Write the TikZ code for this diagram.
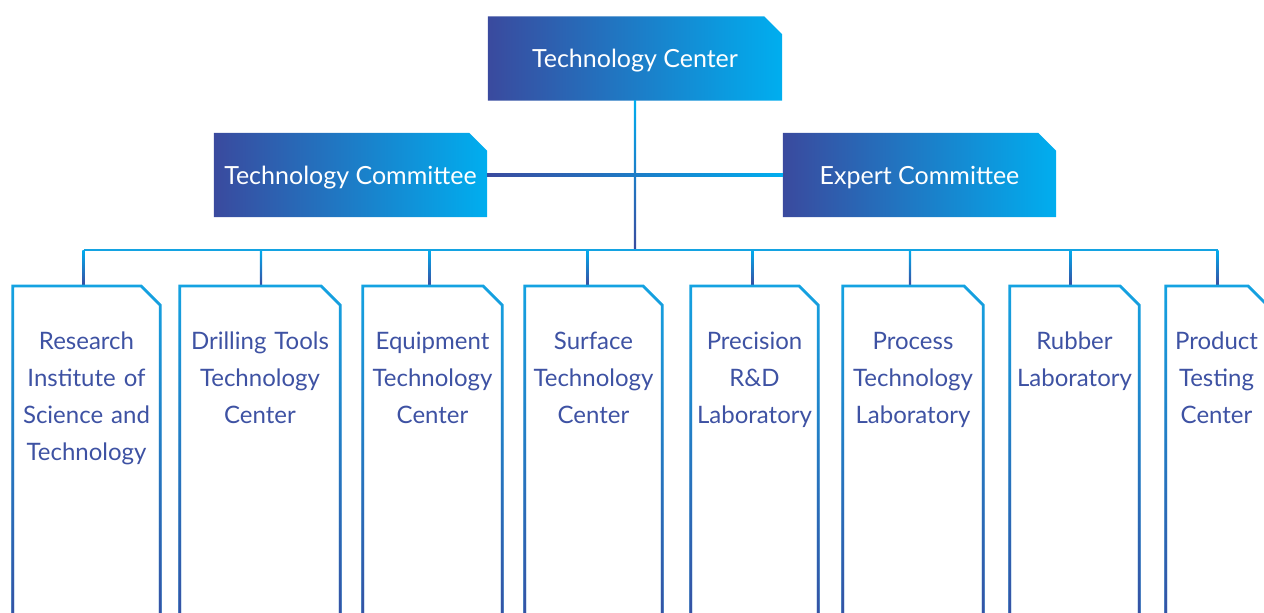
\documentclass[tikz,border=0pt]{standalone}
\usepackage{fontspec}
\setmainfont{Lato}
\usetikzlibrary{fadings,backgrounds}
\definecolor{MyDark}{HTML}{3A4A9E}
\definecolor{MyMid}{HTML}{0071B9}
\definecolor{MyLight}{HTML}{00AEEF}
\definecolor{MyLine}{HTML}{14A3E2}
\definecolor{MyText}{HTML}{3E52A3}
\tikzset{
	headbox/.style={minimum height=84pt, inner sep=0pt, text height=18pt, text depth=0pt,
		text=white, font=\fontsize{25}{30}\selectfont},
	headshade/.style={left color=MyDark, middle color=MyMid, right color=MyLight},
	unitbox/.style={anchor=north, inner xsep=0pt, inner ysep=45pt, text height=18pt, text depth=250pt,
		align=center, text=MyText, font=\fontsize{24}{37}\selectfont},
	unitline/.style={MyLine, line width=2.8pt, line join=miter},
	busline/.style={MyLine, line width=2.4pt},
	dropshade/.style={top color=MyLight, bottom color=MyDark}
}
\newcommand{\cutpath}[2]{(#1.south west) -- (#1.north west) -- ([xshift=-#2]#1.north east) -- ([yshift=-#2]#1.north east) -- (#1.south east)}

\begin{document}
\begin{tikzpicture}[x=1pt, y=-1pt]
	\useasboundingbox (0,0) rectangle (1264,613);
	\begin{scope}
		\clip (0,0) rectangle (1264,613);
		
		\node[headbox, minimum width=294pt] (tc) at (635,58.5) {Technology Center};
		\node[headbox, minimum width=273pt] (tcom) at (350.5,175) {Technology Committee};
		\node[headbox, minimum width=273pt] (ecom) at (919.5,175) {Expert Committee};
		
		\begin{scope}[on background layer]
			\foreach \n in {tc,tcom,ecom}
				\shade[headshade] \cutpath{\n}{18pt} -- cycle;
		\end{scope}
		
		\coordinate (bus) at (635,250);
		
		\shade[headshade] (tcom.east) ++(0,1.2) rectangle ([yshift=1.2pt]ecom.west);
		\shade[top color=MyLight, middle color=MyLight, bottom color=MyDark] (tc.south) ++(-1.2,0) rectangle ([xshift=1.2pt]bus);
		
		\foreach \n/\l/\r/\o/\t in {
			res/13/160/-3/{Research\\Institute of\\Science and\\Technology},
			dri/180/340/1/{Drilling Tools\\Technology\\Center},
			equ/363/502/-3/{Equipment\\Technology\\Center},
			sur/525/662/-6/{Surface\\Technology\\Center},
			pre/691/818/-2/{Precision\\R\&D\\Laboratory},
			pro/843/983/-3/{Process\\Technology\\Laboratory},
			rub/1010/1139/-4/{Rubber\\Laboratory},
			tes/1166/1267/1/{Product\\Testing\\Center}}
		{
			\node[unitbox, minimum width={(\r-\l)*1pt}, text width={(\r-\l)*1pt}] (\n) at ({(\l+\r)/2},286) {\t};
			\coordinate (\n-top) at ([xshift=\o pt]\n.north);
			\shade[dropshade] (\n-top |- bus) ++(-1.2,0) rectangle ([xshift=1.2pt]\n-top);
			\draw[unitline] \cutpath{\n}{19pt};
			\draw[unitline, MyDark, path fading=north] \cutpath{\n}{19pt};
		}
		
		\draw[busline] (res-top |- bus) -- (tes-top |- bus);
	\end{scope}
\end{tikzpicture}
\end{document}
